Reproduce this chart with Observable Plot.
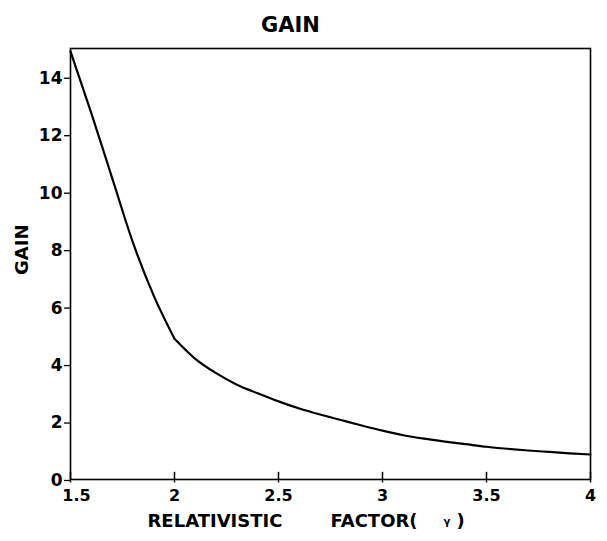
<!DOCTYPE html>
<html>
<head>
<meta charset="utf-8">
<script src="https://cdn.jsdelivr.net/npm/d3@7"></script>
<script src="https://cdn.jsdelivr.net/npm/@observablehq/plot@0.6"></script>
<style>
  html, body { margin: 0; padding: 0; background: #fff; }
</style>
</head>
<body>
<div id="chart"></div>
<script>
const gamma = [1.5, 1.6, 1.7, 1.8, 1.9, 2.0, 2.1, 2.2, 2.3, 2.4, 2.5, 2.6, 2.7, 2.8, 2.9, 3.0, 3.1, 3.2, 3.3, 3.4, 3.5, 3.6, 3.7, 3.8, 3.9, 4.0];
const gain  = [14.9, 12.75, 10.5, 8.25, 6.4, 4.9, 4.2, 3.7, 3.3, 3.0, 2.72, 2.47, 2.26, 2.07, 1.88, 1.70, 1.54, 1.42, 1.32, 1.23, 1.14, 1.07, 1.01, 0.96, 0.91, 0.87];
const xTicks = [1.5, 2, 2.5, 3, 3.5, 4];
const xTickLabels = ["1.5", "2", "2.5", "3", "3.5", "4"];
const yTicks = [0, 2, 4, 6, 8, 10, 12, 14];
const title = "GAIN";
const yLabel = "GAIN";
const xLabel = "RELATIVISTIC";
const xLabel2 = "FACTOR(";
const xLabelSym = "γ";
const xLabelEnd = ")";

// two smooth pieces meeting at the kink at gamma = 2
const data = [];
gamma.forEach((g, i) => {
  if (g <= 2) data.push({gamma: g, gain: gain[i], seg: "a"});
  if (g >= 2) data.push({gamma: g, gain: gain[i], seg: "b"});
});
const font = "'DejaVu Sans', Arial, sans-serif";
const fmt = d => xTickLabels[xTicks.indexOf(d)];

const chart = Plot.plot({
  width: 607,
  height: 541,
  marginLeft: 70,
  marginRight: 17,
  marginTop: 48,
  marginBottom: 62,
  style: {fontFamily: font, fontWeight: "bold", color: "#000", background: "#fff"},
  x: {domain: [1.5, 4]},
  y: {domain: [0, 15]},
  marks: [
    Plot.frame({stroke: "#000", strokeWidth: 1.6}),
    Plot.axisX({ticks: xTicks.slice(0, 1), tickFormat: fmt, tickSize: 0, tickPadding: 10, fontSize: 16, fontWeight: "bold", label: null, letterSpacing: -1.5, dx: 6}),
    Plot.axisX({ticks: xTicks.slice(1), tickFormat: fmt, tickSize: 0, tickPadding: 10, fontSize: 16, fontWeight: "bold", label: null, letterSpacing: -1}),
    Plot.ruleX(xTicks, {x: d => d, y1: -0.12, y2: 0.25, stroke: "#000", strokeWidth: 1.5}),
    Plot.axisY({ticks: yTicks, tickSize: 6, tickPadding: 2, fontSize: 17, fontWeight: "bold", label: null, strokeWidth: 1.3, dy: 1}),
    Plot.line(data, {x: "gamma", y: "gain", z: "seg", stroke: "#000", strokeWidth: 2.2, curve: "monotone-x"}),
    Plot.text([title], {frameAnchor: "top", dx: -40, dy: -31, fontSize: 21, fontWeight: "bold", text: d => d, letterSpacing: 3}),
    Plot.text([yLabel], {frameAnchor: "left", dx: -48, dy: 11, rotate: -90, fontSize: 18, fontWeight: "bold", text: d => d, letterSpacing: 2}),
    Plot.text([xLabel], {frameAnchor: "bottom-left", dx: 77, dy: 47, textAnchor: "start", fontSize: 18, fontWeight: "bold", text: d => d, letterSpacing: 1}),
    Plot.text([xLabel2], {frameAnchor: "bottom-left", dx: 260, dy: 47, textAnchor: "start", fontSize: 18, fontWeight: "bold", text: d => d}),
    Plot.text([xLabelSym], {frameAnchor: "bottom-left", dx: 373, dy: 45, fontSize: 10, fontWeight: "bold", text: d => d}),
    Plot.text([xLabelEnd], {frameAnchor: "bottom-left", dx: 386, dy: 47, fontSize: 18, fontWeight: "bold", text: d => d})
  ]
});
document.getElementById("chart").appendChild(chart);
</script>
</body>
</html>
